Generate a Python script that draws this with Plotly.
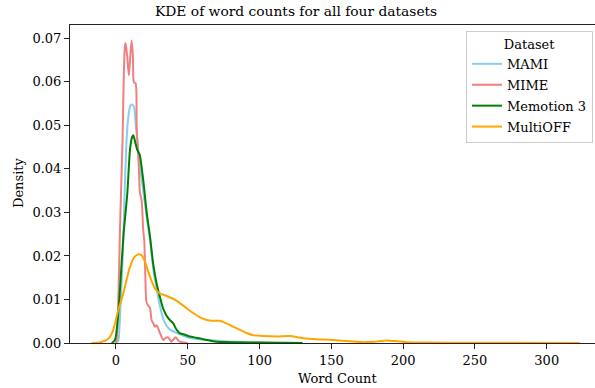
import plotly.graph_objects as go

# ---- data ----
mami_x = [0, 1.6, 2.5, 4, 5.1, 6.3, 7.4, 8.6, 10, 10.9, 12, 12.8, 13.6, 15, 17, 19, 21.4, 24, 26, 28.3,
          30.6, 33, 35.5, 38, 42.3, 46, 50, 56, 65, 75, 90, 110]
mami_y = [0, 0.0005, 0.004, 0.014, 0.0236, 0.037, 0.0466, 0.0519, 0.0545, 0.0548, 0.0546, 0.054, 0.051,
          0.046, 0.040, 0.035, 0.029, 0.023, 0.017, 0.0125, 0.0085, 0.0055, 0.0038, 0.003, 0.0023, 0.0018,
          0.0013, 0.0009, 0.0007, 0.0004, 0.0002, 0]

mime_x = [0, 0.5, 1.5, 2.8, 4, 4.6, 5.5, 6.2, 6.7, 7.8, 9.0, 10, 10.9, 11.8, 12.5, 13.7, 14.4, 15, 16,
          16.7, 17.8, 19, 19.7, 20.5, 21.4, 23.7, 24.8, 26, 27.2, 28.3, 30.6, 33, 34.5, 36.4, 38.5, 40,
          41.5, 44, 47, 50]
mime_y = [0, 0.0007, 0.008, 0.0259, 0.040, 0.0466, 0.062, 0.068, 0.0689, 0.066, 0.0615, 0.066, 0.0695,
          0.066, 0.0599, 0.0596, 0.050, 0.046, 0.040, 0.0345, 0.033, 0.0259, 0.0236, 0.015, 0.0092, 0.008,
          0.0053, 0.0045, 0.0037, 0.0041, 0.0023, 0.0007, 0.0012, 0.0013, 0.0003, 0.0008, 0.0013, 0.0004,
          0.0001, 0]

memo_x = [-3, -0.7, 1.6, 3.5, 5.3, 7.9, 9.75, 11, 12.1, 13.5, 14.9, 16.5, 19, 21.4, 23.7, 26, 28.3, 30.6,
          33, 36.4, 39.9, 42.3, 44.6, 48, 51.5, 56, 60.8, 70, 80, 100, 130]
memo_y = [0, 0.0007, 0.0068, 0.016, 0.025, 0.0343, 0.0443, 0.047, 0.0477, 0.046, 0.0443, 0.0433, 0.0374,
          0.030, 0.0245, 0.018, 0.0137, 0.0106, 0.0078, 0.0057, 0.0045, 0.003, 0.0022, 0.0019, 0.0015,
          0.0012, 0.00085, 0.0003, 0.0002, 0.0001, 0]

moff_x = [-17, -13, -10.5, -6.5, -4, -1.9, 1.6, 5.1, 9.75, 13, 16, 18, 20.2, 23.7, 27.2, 30.6, 35.3, 42.3,
          49.2, 51.5, 58.5, 63.2, 67, 72.4, 77, 82, 86.4, 91, 95.6, 102.6, 111.9, 121, 130.4, 139.8, 151,
          162, 172, 180, 188.5, 196, 202, 215, 240, 280, 323]
moff_y = [0, 0.00005, 0.0002, 0.0007, 0.0015, 0.003, 0.0076, 0.0114, 0.0175, 0.0198, 0.0204, 0.0201,
          0.0187, 0.0152, 0.0125, 0.0114, 0.0108, 0.0097, 0.008, 0.0074, 0.0059, 0.0053, 0.0051, 0.0051,
          0.0045, 0.0037, 0.003, 0.0023, 0.0018, 0.0016, 0.0015, 0.0016, 0.0011, 0.00085, 0.0007, 0.0004,
          0.0002, 0.0003, 0.0006, 0.0004, 0.0002, 0.0001, 0.00005, 0.00003, 0]

series = [
    ("MAMI", mami_x, mami_y, "#87CEEB"),
    ("MIME", mime_x, mime_y, "#F08080"),
    ("Memotion 3", memo_x, memo_y, "#008000"),
    ("MultiOFF", moff_x, moff_y, "#FFA500"),
]

x_ticks = [0, 50, 100, 150, 200, 250, 300]
y_ticks = [0.00, 0.01, 0.02, 0.03, 0.04, 0.05, 0.06, 0.07]

FONT = "DejaVu Serif"
FS = 13

fig = go.Figure()
for name, xs, ys, col in series:
    fig.add_trace(go.Scatter(x=xs, y=ys, mode="lines", name=name, legendgroup=name,
                             line=dict(color=col, width=2, shape="spline", smoothing=0.7)))

W, H = 595, 388
L, R, T, B = 70, 0, 25, 45
pw = W - L - R
ph = H - T - B

def px_x(p):
    return (p - L) / pw

def px_y(p):
    return (H - B - p) / ph

fig.update_layout(
    width=W, height=H,
    margin=dict(l=L, r=R, t=T, b=B),
    paper_bgcolor="white", plot_bgcolor="white",
    font=dict(family=FONT, size=FS, color="black"),
    showlegend=True,
    legend=dict(
        x=px_x(466), y=px_y(31), xanchor="left", yanchor="top",
        bgcolor="rgba(255,255,255,0.8)", bordercolor="#cccccc", borderwidth=1,
        font=dict(family=FONT, size=FS, color="black"),
        title=dict(text="Dataset", side="top center", font=dict(family=FONT, size=FS)),
        itemwidth=30, tracegroupgap=1,
    ),
    xaxis=dict(
        range=[-32.0, 333.6], tickvals=x_ticks, ticktext=[str(v) for v in x_ticks],
        showgrid=False, zeroline=False, showline=True, linecolor="#222222", linewidth=1,
        mirror=True, ticks="outside", ticklen=5, tickcolor="#222222",
        tickfont=dict(family=FONT, size=FS),
    ),
    yaxis=dict(
        range=[0, 0.07305], tickvals=y_ticks, ticktext=[f"{v:.2f}" for v in y_ticks],
        showgrid=False, zeroline=False, showline=True, linecolor="#222222", linewidth=1,
        ticks="outside", ticklen=5, tickcolor="#222222",
        tickfont=dict(family=FONT, size=FS),
    ),
    annotations=[
        dict(text="KDE of word counts for all four datasets", x=px_x(296), y=px_y(11.5),
             xref="paper", yref="paper", xanchor="center", yanchor="middle",
             showarrow=False, font=dict(family=FONT, size=13.8)),
        dict(text="Word Count", x=px_x(337), y=px_y(378), xref="paper", yref="paper",
             xanchor="center", yanchor="middle", showarrow=False, font=dict(family=FONT, size=FS)),
        dict(text="Density", x=px_x(18), y=px_y(183), xref="paper", yref="paper",
             xanchor="center", yanchor="middle", textangle=-90, showarrow=False,
             font=dict(family=FONT, size=FS)),
    ],
)

fig.write_html("out.html", config={"displayModeBar": False},
               post_script="document.body.style.margin='0';document.body.style.padding='0';")
